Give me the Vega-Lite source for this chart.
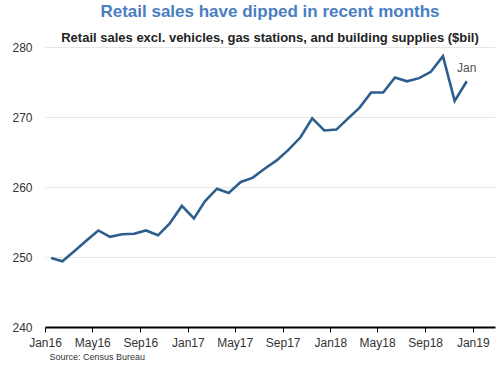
{
  "$schema": "https://vega.github.io/schema/vega-lite/v6.json",
  "width": 450,
  "height": 280,
  "autosize": {"type": "none"},
  "padding": {"left": 45, "top": 47, "right": 5, "bottom": 38},
  "background": "white",
  "config": {"view": {"stroke": null}, "font": "Liberation Sans"},
  "title": {
    "text": "Retail sales have dipped in recent months",
    "subtitle": "Retail sales excl. vehicles, gas stations, and building supplies ($bil)",
    "anchor": "middle",
    "frame": "group",
    "font": "Liberation Sans",
    "fontSize": 17,
    "fontWeight": "bold",
    "color": "#4a7ec1",
    "subtitleFont": "Liberation Sans",
    "subtitleFontSize": 13,
    "subtitleFontWeight": "bold",
    "subtitleColor": "#222222",
    "subtitlePadding": 11,
    "offset": -5
  },
  "data": {
    "values": [
      {"month": "2016/02/01", "sales": 249.85},
      {"month": "2016/03/01", "sales": 249.4},
      {"month": "2016/04/01", "sales": 250.86},
      {"month": "2016/05/01", "sales": 252.33},
      {"month": "2016/06/01", "sales": 253.79},
      {"month": "2016/07/01", "sales": 252.89},
      {"month": "2016/08/01", "sales": 253.26},
      {"month": "2016/09/01", "sales": 253.33},
      {"month": "2016/10/01", "sales": 253.79},
      {"month": "2016/11/01", "sales": 253.1},
      {"month": "2016/12/01", "sales": 254.8},
      {"month": "2017/01/01", "sales": 257.3},
      {"month": "2017/02/01", "sales": 255.5},
      {"month": "2017/03/01", "sales": 257.95},
      {"month": "2017/04/01", "sales": 259.76},
      {"month": "2017/05/01", "sales": 259.14},
      {"month": "2017/06/01", "sales": 260.72},
      {"month": "2017/07/01", "sales": 261.3},
      {"month": "2017/08/01", "sales": 262.6},
      {"month": "2017/09/01", "sales": 263.8},
      {"month": "2017/10/01", "sales": 265.3},
      {"month": "2017/11/01", "sales": 267.1},
      {"month": "2017/12/01", "sales": 269.8},
      {"month": "2018/01/01", "sales": 268.07},
      {"month": "2018/02/01", "sales": 268.2},
      {"month": "2018/03/01", "sales": 269.7},
      {"month": "2018/04/01", "sales": 271.3},
      {"month": "2018/05/01", "sales": 273.5},
      {"month": "2018/06/01", "sales": 273.5},
      {"month": "2018/07/01", "sales": 275.65},
      {"month": "2018/08/01", "sales": 275.1},
      {"month": "2018/09/01", "sales": 275.55},
      {"month": "2018/10/01", "sales": 276.45},
      {"month": "2018/11/01", "sales": 278.7},
      {"month": "2018/12/01", "sales": 272.3},
      {"month": "2019/01/01", "sales": 275.1, "label": "Jan"}
    ]
  },
  "encoding": {
    "x": {
      "field": "month",
      "type": "temporal",
      "scale": {"domain": [{"year": 2016, "month": 1, "date": 1}, {"year": 2019, "month": 2, "date": 27}]},
      "axis": {
        "title": "Source: Census Bureau",
        "titleAnchor": "start",
        "titleAlign": "left",
        "titleX": 4,
        "titleFontSize": 9,
        "titleFontWeight": "normal",
        "titleColor": "#333333",
        "titlePadding": 4,
        "format": "%b%y",
        "tickCount": {"interval": "month", "step": 4},
        "labelFontSize": 12,
        "labelColor": "#333333",
        "labelFlush": false,
        "labelOverlap": false,
        "labelPadding": 5,
        "domainColor": "#000000",
        "domainWidth": 2,
        "tickColor": "#000000",
        "tickSize": 5,
        "tickWidth": 1,
        "grid": false
      }
    },
    "y": {
      "field": "sales",
      "type": "quantitative",
      "scale": {"domain": [240, 280], "zero": false, "nice": false},
      "axis": {
        "title": null,
        "values": [240, 250, 260, 270, 280],
        "domain": false,
        "ticks": false,
        "tickSize": 0,
        "labelPadding": 13,
        "labelFontSize": 12,
        "labelColor": "#333333",
        "gridColor": "#e6e6e6",
        "gridWidth": 1
      }
    }
  },
  "layer": [
    {
      "mark": {"type": "line", "color": "#2e5e8e", "strokeWidth": 2.6, "xOffset": -6}
    },
    {
      "transform": [{"filter": "datum.label"}],
      "mark": {"type": "text", "dx": -6, "dy": -9, "baseline": "alphabetic", "align": "center", "fontSize": 12, "color": "#555555"},
      "encoding": {"text": {"field": "label"}}
    }
  ]
}
